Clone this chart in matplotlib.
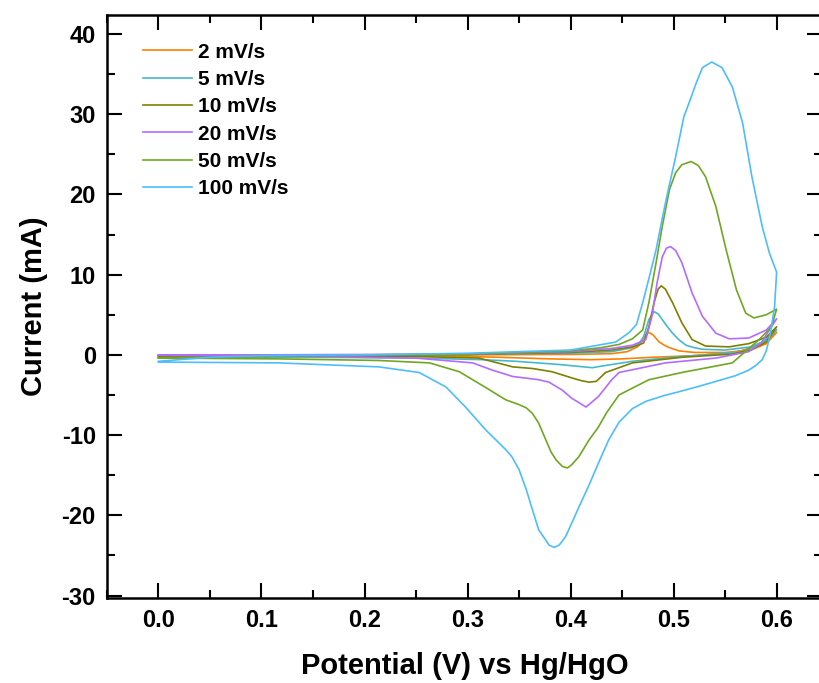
import numpy as np
import matplotlib
matplotlib.use('Agg')
import matplotlib.pyplot as plt
from matplotlib.ticker import MultipleLocator

matplotlib.rcParams.update({'font.family': 'Liberation Sans', 'font.weight': 'bold',
                            'axes.unicode_minus': False})

###----------------------------------------------------------------------------
### CV data: forward (anodic) then reverse (cathodic) scan
labels = ['2 mV/s', '5 mV/s', '10 mV/s', '20 mV/s', '50 mV/s', '100 mV/s']
colours = ['#FF8000', '#45B9CC', '#7F7F00', '#B36BFF', '#70A722', '#4DBDFF']

v_2 = [0, 0.1, 0.2, 0.3, 0.4, 0.44, 0.455, 0.465, 0.47, 0.473, 0.476, 0.48, 0.486, 0.491, 0.496, 0.505, 0.52, 0.55, 0.575, 0.59, 0.6,
       0.59, 0.58, 0.56, 0.52, 0.48, 0.45, 0.42, 0.38, 0.33, 0.28, 0.2, 0.1, 0]
i_2 = [-0.1, -0.05, 0, 0, 0.05, 0.15, 0.4, 1.0, 1.9, 2.5, 2.8, 2.5, 1.6, 1.2, 0.9, 0.5, 0.3, 0.3, 0.6, 1.4, 2.8,
       1.8, 1.1, 0.3, -0.1, -0.3, -0.5, -0.6, -0.5, -0.3, -0.15, -0.1, -0.1, -0.1]

v_5 = [0, 0.1, 0.2, 0.3, 0.4, 0.44, 0.46, 0.467, 0.471, 0.476, 0.481, 0.485, 0.489, 0.494, 0.499, 0.505, 0.512, 0.52, 0.528, 0.55, 0.575, 0.59, 0.6,
       0.585, 0.567, 0.54, 0.508, 0.46, 0.435, 0.421, 0.405, 0.389, 0.347, 0.315, 0.25, 0.15, 0]
i_5 = [-0.3, -0.1, 0, 0.05, 0.2, 0.4, 0.9, 1.5, 2.3, 4.4, 5.4, 5.1, 4.4, 3.5, 2.7, 1.9, 1.2, 0.9, 0.7, 0.6, 1.0, 1.8, 3.1,
       1.5, 0.4, 0.1, -0.2, -0.8, -1.3, -1.6, -1.4, -1.2, -0.8, -0.6, -0.4, -0.3, -0.3]

v_10 = [0, 0.1, 0.2, 0.3, 0.4, 0.44, 0.46, 0.466, 0.471, 0.476, 0.481, 0.485, 0.488, 0.492, 0.499, 0.508, 0.518, 0.531, 0.554, 0.573, 0.59, 0.6,
        0.59, 0.575, 0.557, 0.508, 0.46, 0.434, 0.425, 0.418, 0.41, 0.402, 0.382, 0.363, 0.344, 0.311, 0.25, 0.15, 0]
i_10 = [-0.1, 0, 0, 0.05, 0.3, 0.6, 1.0, 1.2, 1.5, 3.5, 6.5, 8.2, 8.6, 8.2, 6.5, 4.0, 1.9, 1.1, 1.0, 1.4, 2.2, 3.5,
        1.6, 0.6, 0.1, -0.3, -1.0, -2.2, -3.3, -3.4, -3.2, -2.9, -2.1, -1.7, -1.5, -0.4, -0.2, -0.15, -0.1]

v_20 = [0, 0.1, 0.2, 0.3, 0.4, 0.44, 0.46, 0.473, 0.479, 0.484, 0.489, 0.493, 0.497, 0.502, 0.508, 0.518, 0.528, 0.541, 0.554, 0.573, 0.59, 0.6,
        0.585, 0.573, 0.541, 0.492, 0.447, 0.44, 0.427, 0.415, 0.401, 0.392, 0.379, 0.369, 0.357, 0.344, 0.324, 0.305, 0.25, 0.15, 0]
i_20 = [0, 0, 0.05, 0.1, 0.4, 0.8, 1.2, 1.9, 4.8, 9.0, 12.2, 13.3, 13.5, 13.0, 11.5, 7.7, 4.8, 2.7, 2.0, 2.1, 3.1, 4.5,
        1.5, 0.4, -0.4, -1.0, -2.2, -3.1, -5.2, -6.5, -5.4, -4.4, -3.4, -3.1, -2.9, -2.7, -1.9, -1.0, -0.4, -0.2, -0.05]

v_50 = [0, 0.1, 0.2, 0.3, 0.4, 0.43, 0.447, 0.46, 0.47, 0.476, 0.483, 0.489, 0.496, 0.502, 0.508, 0.517, 0.524, 0.531, 0.541, 0.551, 0.561, 0.57, 0.578, 0.59, 0.6,
        0.595, 0.583, 0.557, 0.508, 0.476, 0.447, 0.435, 0.427, 0.418, 0.408, 0.401, 0.397, 0.392, 0.386, 0.381, 0.376, 0.369, 0.363, 0.357, 0.35, 0.337, 0.318,
        0.292, 0.263, 0.214, 0.117, 0]
i_50 = [-0.4, -0.2, -0.05, 0.1, 0.5, 0.9, 1.3, 2.0, 3.1, 6.5, 11.5, 16.0, 20.6, 22.7, 23.7, 24.1, 23.6, 22.2, 18.5, 13.1, 8.1, 5.2, 4.6, 5.0, 5.7,
        3.5, 1.9, -1.0, -2.2, -3.1, -5.0, -7.2, -9.0, -10.6, -12.7, -13.7, -14.1, -13.9, -13.1, -12.1, -10.6, -8.5, -7.3, -6.6, -6.2, -5.6, -4.1,
        -2.1, -1.0, -0.7, -0.5, -0.4]

v_100 = [0, 0.05, 0.1, 0.2, 0.3, 0.4, 0.444, 0.457, 0.464, 0.47, 0.476, 0.483, 0.489, 0.493, 0.502, 0.51, 0.515, 0.522, 0.528, 0.537, 0.547,
         0.557, 0.567, 0.576, 0.586, 0.593, 0.6,
         0.598, 0.594, 0.59, 0.586, 0.58, 0.573, 0.56, 0.544, 0.525, 0.505, 0.49, 0.473, 0.46, 0.447, 0.437, 0.427, 0.418, 0.408, 0.401,
         0.395, 0.389, 0.384, 0.379, 0.376, 0.369, 0.363, 0.357, 0.35, 0.343, 0.337, 0.318, 0.298, 0.279, 0.253, 0.214, 0.117, 0]
i_100 = [-0.8, -0.3, -0.1, 0, 0.2, 0.6, 1.6, 2.8, 3.8, 6.5, 9.5, 13.1, 17.0, 19.5, 24.7, 29.7, 31.4, 33.9, 35.8, 36.5, 35.8,
         33.4, 28.9, 22.2, 16.0, 12.7, 10.3,
         6.0, 2.7, 0.5, -0.6, -1.3, -1.9, -2.6, -3.2, -3.9, -4.6, -5.1, -5.8, -6.7, -8.4, -10.6, -13.5, -16.2, -19.0, -21.0,
         -22.7, -23.7, -24.0, -23.7, -23.1, -21.8, -19.3, -16.8, -14.3, -12.7, -11.8, -9.4, -6.5, -4.0, -2.2, -1.5, -1.0, -0.9]

potentials = [v_2, v_5, v_10, v_20, v_50, v_100]
currents = [i_2, i_5, i_10, i_20, i_50, i_100]

###----------------------------------------------------------------------------
fig = plt.figure(figsize=(8.19, 6.83), dpi=100)
ax = fig.add_axes([0.1306, 0.1245, 0.873, 0.854])

for n in range(len(labels)):
    ax.plot(np.array(potentials[n]), np.array(currents[n]), '-', linewidth=1.2,
            color=colours[n], label=labels[n])

ax.set_xlim(-0.05, 0.644)
ax.set_ylim(-30.3, 42.4)
ax.xaxis.set_minor_locator(MultipleLocator(0.05))
ax.yaxis.set_major_locator(MultipleLocator(10))
ax.yaxis.set_minor_locator(MultipleLocator(5))
ax.set_xticks(np.arange(0, 0.61, 0.1))
ax.set_xticklabels(['{:.1f}'.format(t) for t in np.arange(0, 0.61, 0.1)])

ax.tick_params(which='both', direction='in', top=True, right=True, width=1.5, labelsize=17, pad=8)
ax.tick_params(which='major', length=11)
ax.tick_params(which='minor', length=6)
for s in ax.spines.values():
    s.set_linewidth(1.8)

ax.set_xlabel('Potential (V) vs Hg/HgO', fontsize=21, fontweight='bold', labelpad=14)
ax.set_ylabel('Current (mA)', fontsize=21, fontweight='bold', labelpad=10)

ax.legend(loc='upper left', bbox_to_anchor=(0.05, 0.952), frameon=False, fontsize=15,
          handlelength=2.35, handletextpad=0.3, labelspacing=0.4, borderpad=0, borderaxespad=0)

fig.savefig('out.png', dpi=100)
